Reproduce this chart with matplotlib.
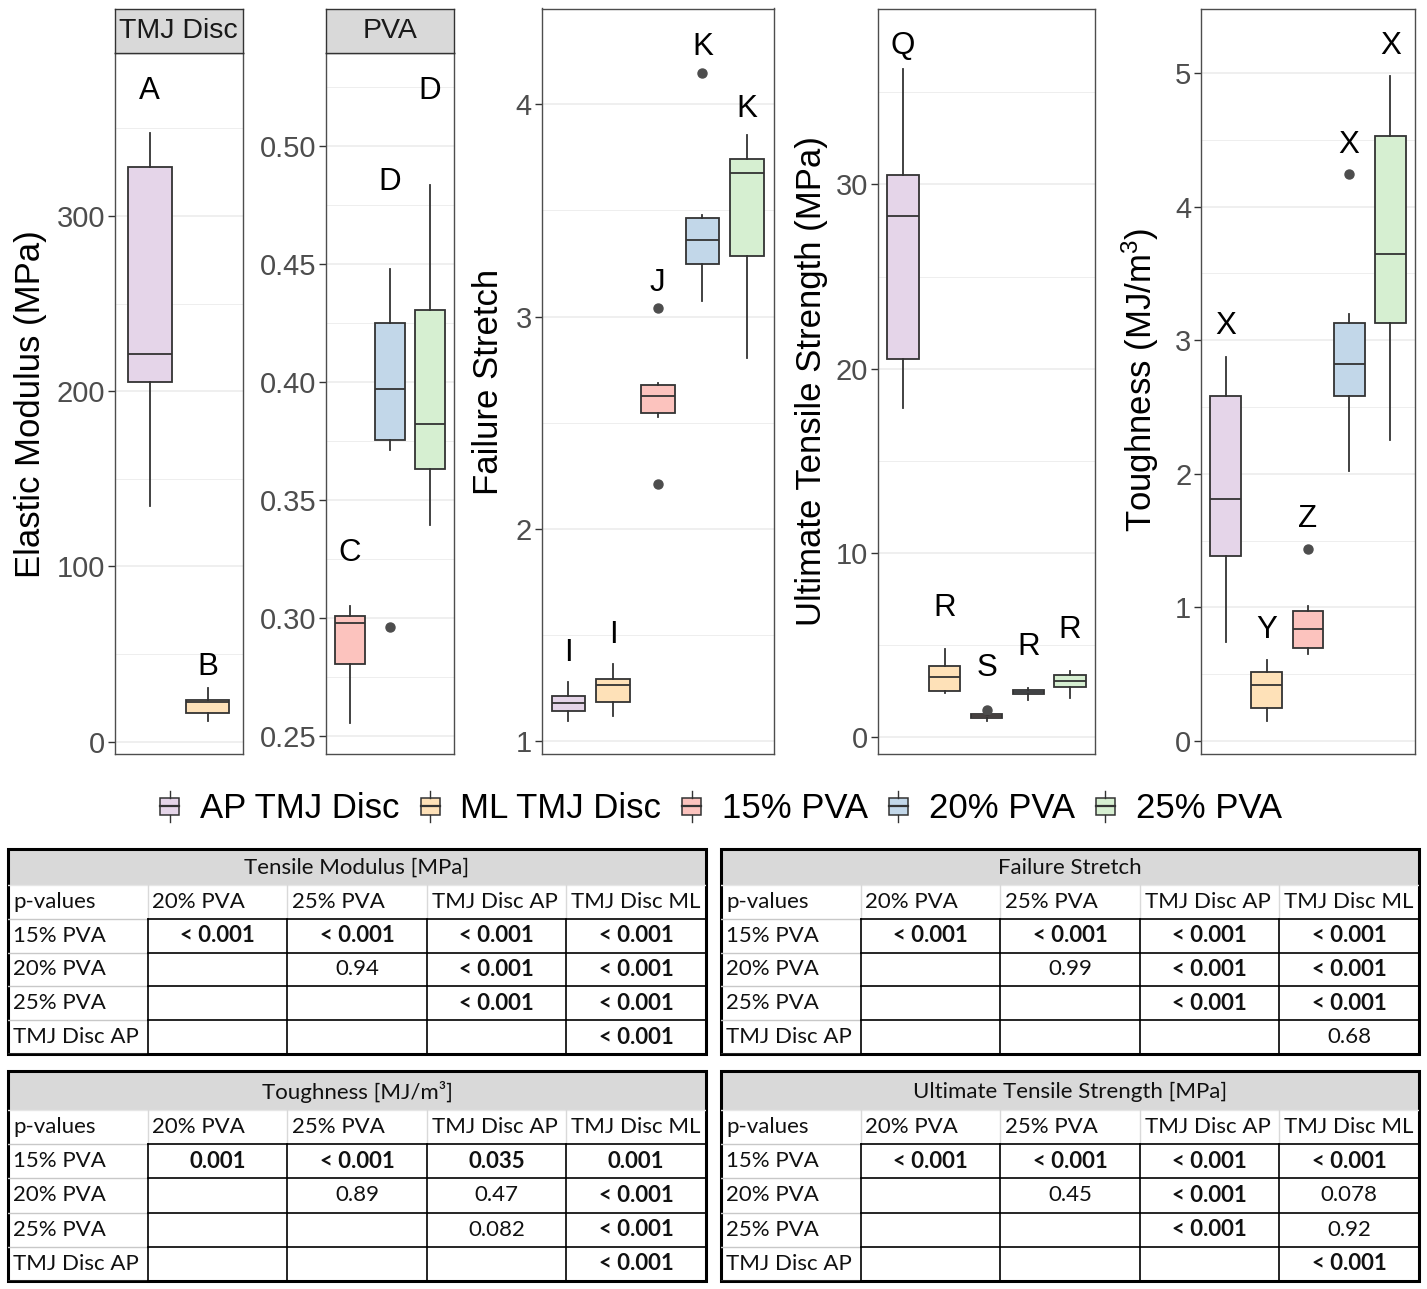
import matplotlib
matplotlib.use('Agg')
import matplotlib.pyplot as plt
from matplotlib.patches import Rectangle, Patch
from matplotlib.lines import Line2D
from matplotlib.legend_handler import HandlerBase

W, H = 1427, 1289
plt.rcParams['font.family'] = ['Liberation Sans', 'DejaVu Sans']
plt.rcParams['mathtext.fontset'] = 'custom'
plt.rcParams['mathtext.rm'] = 'Liberation Sans'
plt.rcParams['mathtext.it'] = 'Liberation Sans:italic'

# ---------------- data ----------------
groups = ['AP TMJ Disc', 'ML TMJ Disc', '15% PVA', '20% PVA', '25% PVA']
group_colors = ['#E5D5E9', '#FEE1B8', '#FCC3BE', '#C2D7E9', '#D6EFD1']

# Elastic modulus, TMJ Disc facet
em_tmj_groups = ['AP TMJ Disc', 'ML TMJ Disc']
em_tmj_whislo = [134.5, 11.6]
em_tmj_q1 = [205.1, 16.4]
em_tmj_med = [221.3, 22.6]
em_tmj_q3 = [328.2, 24.0]
em_tmj_whishi = [347.6, 30.8]
em_tmj_fliers = [[], []]
em_tmj_letters = ['A', 'B']
em_tmj_letter_y = [373.4, 44.5]

# Elastic modulus, PVA facet
em_pva_groups = ['15% PVA', '20% PVA', '25% PVA']
em_pva_whislo = [0.2556, 0.3712, 0.3393]
em_pva_q1 = [0.2807, 0.3754, 0.3633]
em_pva_med = [0.2979, 0.3969, 0.3821]
em_pva_q3 = [0.3008, 0.4251, 0.4307]
em_pva_whishi = [0.3051, 0.4481, 0.4837]
em_pva_fliers = [[], [0.2962], []]
em_pva_letters = ['C', 'D', 'D']
em_pva_letter_y = [0.329, 0.4862, 0.5247]

# Failure stretch
fs_whislo = [1.096, 1.118, 2.526, 3.071, 2.804]
fs_q1 = [1.143, 1.182, 2.545, 3.247, 3.283]
fs_med = [1.178, 1.264, 2.626, 3.360, 3.675]
fs_q3 = [1.212, 1.292, 2.678, 3.466, 3.744]
fs_whishi = [1.279, 1.363, 2.689, 3.479, 3.854]
fs_fliers = [[], [], [3.04, 2.21], [4.145], []]
fs_letters = ['I', 'I', 'J', 'K', 'K']
fs_letter_y = [1.429, 1.515, 3.173, 4.286, 3.995]

# Ultimate tensile strength
uts_whislo = [17.85, 2.36, 0.87, 1.99, 2.09]
uts_q1 = [20.53, 2.50, 1.00, 2.30, 2.72]
uts_med = [28.30, 3.24, 1.11, 2.43, 3.04]
uts_q3 = [30.51, 3.86, 1.21, 2.54, 3.35]
uts_whishi = [36.27, 4.78, 1.26, 2.66, 3.57]
uts_fliers = [[], [], [1.43], [], []]
uts_letters = ['Q', 'R', 'S', 'R', 'R']
uts_letter_y = [37.68, 7.16, 3.90, 5.07, 5.98]

# Toughness
tg_whislo = [0.738, 0.152, 0.651, 2.022, 2.251]
tg_q1 = [1.386, 0.249, 0.698, 2.580, 3.126]
tg_med = [1.812, 0.419, 0.840, 2.820, 3.642]
tg_q3 = [2.580, 0.514, 0.975, 3.131, 4.530]
tg_whishi = [2.874, 0.606, 1.012, 3.199, 4.979]
tg_fliers = [[], [], [1.436], [4.243], []]
tg_letters = ['X', 'Y', 'Z', 'X', 'X']
tg_letter_y = [3.13, 0.855, 1.683, 4.485, 5.223]

# p-value tables
table_cols = ['p-values', '20% PVA', '25% PVA', 'TMJ Disc AP', 'TMJ Disc ML']
table_rows = ['15% PVA', '20% PVA', '25% PVA', 'TMJ Disc AP']
tm_title = 'Tensile Modulus [MPa]'
tm_cells = [['< 0.001', '< 0.001', '< 0.001', '< 0.001'],
            ['', '0.94', '< 0.001', '< 0.001'],
            ['', '', '< 0.001', '< 0.001'],
            ['', '', '', '< 0.001']]
fst_title = 'Failure Stretch'
fst_cells = [['< 0.001', '< 0.001', '< 0.001', '< 0.001'],
             ['', '0.99', '< 0.001', '< 0.001'],
             ['', '', '< 0.001', '< 0.001'],
             ['', '', '', '0.68']]
tgt_title = 'Toughness [MJ/m³]'
tgt_cells = [['0.001', '< 0.001', '0.035', '0.001'],
             ['', '0.89', '0.47', '< 0.001'],
             ['', '', '0.082', '< 0.001'],
             ['', '', '', '< 0.001']]
utst_title = 'Ultimate Tensile Strength [MPa]'
utst_cells = [['< 0.001', '< 0.001', '< 0.001', '< 0.001'],
              ['', '0.45', '< 0.001', '0.078'],
              ['', '', '< 0.001', '0.92'],
              ['', '', '', '< 0.001']]

# ---------------- style ----------------
TICK_FS = 21
TITLE_FS = 25
LET_FS = 22.5
STRIP_FS = 20.5
LEG_FS = 25
TAB_FS = 16
EDGE = '#333333'
GRID = '#EBEBEB'

fig = plt.figure(figsize=(W / 100, H / 100), dpi=100)
fig.patch.set_facecolor('white')


def fax(x0, y0, x1, y1):
    return fig.add_axes([x0 / W, 1 - y1 / H, (x1 - x0) / W, (y1 - y0) / H])


def color_of(g):
    return group_colors[groups.index(g)]


def box_panel(ax, gnames, wlo, q1, med, q3, whi, fliers, letters, letter_y,
              ylim, yticks, yticklabels, minor):
    n = len(gnames)
    stats = [dict(whislo=wlo[i], q1=q1[i], med=med[i], q3=q3[i], whishi=whi[i],
                  fliers=fliers[i], label='') for i in range(n)]
    pos = list(range(1, n + 1))
    res = ax.bxp(stats, positions=pos, widths=0.75, patch_artist=True, showcaps=False,
                 boxprops=dict(edgecolor=EDGE, linewidth=1.3),
                 medianprops=dict(color=EDGE, linewidth=1.3),
                 whiskerprops=dict(color=EDGE, linewidth=1.3),
                 flierprops=dict(marker='o', markerfacecolor='#4D4D4D',
                                 markeredgecolor='#4D4D4D', markersize=6.5))
    for b, g in zip(res['boxes'], gnames):
        b.set_facecolor(color_of(g))
    for i in range(n):
        ax.annotate(letters[i], (pos[i], letter_y[i]), xytext=(0, -0.36 * LET_FS),
                    textcoords='offset points', ha='center', va='baseline',
                    fontsize=LET_FS, color='black')
    ax.set_xlim(0.4, n + 0.6)
    ax.set_ylim(*ylim)
    ax.set_xticks([])
    ax.set_yticks(yticks)
    ax.set_yticklabels(yticklabels)
    ax.set_yticks(minor, minor=True)
    ax.tick_params(axis='y', which='major', length=5, width=1.0, color=EDGE,
                   labelsize=TICK_FS, labelcolor='#4D4D4D', pad=2)
    ax.tick_params(axis='y', which='minor', length=0)
    ax.grid(axis='y', which='major', color=GRID, lw=1.1)
    ax.grid(axis='y', which='minor', color=GRID, lw=0.6)
    ax.set_axisbelow(True)
    for s in ax.spines.values():
        s.set_color('#4D4D4D')
        s.set_linewidth(1.0)


def strip(x0, y0, x1, y1, label):
    sa = fax(x0, y0, x1, y1)
    sa.set_xticks([]); sa.set_yticks([])
    sa.set_facecolor('#D9D9D9')
    for s in sa.spines.values():
        s.set_color(EDGE); s.set_linewidth(1.0)
    sa.text(0.5, 0.5, label, ha='center', va='center', fontsize=STRIP_FS,
            color='#1A1A1A', transform=sa.transAxes)


# Panel 1: TMJ disc elastic modulus
ax1 = fax(115, 53, 242.5, 754)
box_panel(ax1, em_tmj_groups, em_tmj_whislo, em_tmj_q1, em_tmj_med, em_tmj_q3,
          em_tmj_whishi, em_tmj_fliers, em_tmj_letters, em_tmj_letter_y,
          (-7, 393), [0, 100, 200, 300], ['0', '100', '200', '300'], [50, 150, 250, 350])
strip(115, 8.5, 242.5, 53, 'TMJ Disc')

# Panel 2: PVA elastic modulus
ax2 = fax(326, 53, 453.5, 754)
box_panel(ax2, em_pva_groups, em_pva_whislo, em_pva_q1, em_pva_med, em_pva_q3,
          em_pva_whishi, em_pva_fliers, em_pva_letters, em_pva_letter_y,
          (0.2424, 0.5395), [0.25, 0.30, 0.35, 0.40, 0.45, 0.50],
          ['0.25', '0.30', '0.35', '0.40', '0.45', '0.50'],
          [0.275, 0.325, 0.375, 0.425, 0.475, 0.525])
strip(326, 8.5, 453.5, 53, 'PVA')

# Panel 3: failure stretch
ax3 = fax(541.5, 8.5, 774, 754)
box_panel(ax3, groups, fs_whislo, fs_q1, fs_med, fs_q3, fs_whishi, fs_fliers,
          fs_letters, fs_letter_y, (0.939, 4.451), [1, 2, 3, 4], ['1', '2', '3', '4'],
          [1.5, 2.5, 3.5])

# Panel 4: UTS
ax4 = fax(878, 8.5, 1095, 754)
box_panel(ax4, groups, uts_whislo, uts_q1, uts_med, uts_q3, uts_whishi, uts_fliers,
          uts_letters, uts_letter_y, (-0.94, 39.56), [0, 10, 20, 30],
          ['0', '10', '20', '30'], [5, 15, 25, 35])

# Panel 5: toughness
ax5 = fax(1201, 8.5, 1415, 754)
box_panel(ax5, groups, tg_whislo, tg_q1, tg_med, tg_q3, tg_whishi, tg_fliers,
          tg_letters, tg_letter_y, (-0.097, 5.482), [0, 1, 2, 3, 4, 5],
          ['0', '1', '2', '3', '4', '5'], [0.5, 1.5, 2.5, 3.5, 4.5])

# Axis titles
def ytitle(x, y, s):
    fig.text(x / W, 1 - y / H, s, rotation=90, ha='center', va='center',
             fontsize=TITLE_FS, color='black')

ytitle(31, 404, 'Elastic Modulus (MPa)')
ytitle(489, 382, 'Failure Stretch')
ytitle(812, 381, 'Ultimate Tensile Strength (MPa)')
ytitle(1140, 380, r'Toughness (MJ/m$^{\mathrm{3}}$)')


# Legend
class BoxHandler(HandlerBase):
    def create_artists(self, legend, orig_handle, xdescent, ydescent, width, height,
                       fontsize, trans):
        fc = orig_handle.get_facecolor()
        cx = -xdescent + width / 2
        y0 = -ydescent
        bh = height * 0.64
        by = y0 + (height - bh) / 2
        rect = Rectangle((cx - width / 2, by), width, bh, facecolor=fc,
                         edgecolor=EDGE, lw=1.1, transform=trans)
        med = Line2D([cx - width / 2, cx + width / 2], [by + bh / 2] * 2,
                     color=EDGE, lw=1.6, transform=trans)
        w1 = Line2D([cx, cx], [y0 - height * 0.08, by], color=EDGE, lw=1.0, transform=trans)
        w2 = Line2D([cx, cx], [by + bh, y0 + height * 1.08], color=EDGE, lw=1.0,
                    transform=trans)
        return [rect, med, w1, w2]


handles = [Patch(facecolor=c, edgecolor=EDGE) for c in group_colors]
fig.legend(handles, groups, loc='center', bbox_to_anchor=(721 / W, 1 - 809 / H),
           ncol=5, frameon=False, fontsize=LEG_FS, handlelength=0.55,
           handleheight=0.8, handletextpad=0.6, columnspacing=0.6,
           handler_map={Patch: BoxHandler()})


# Tables
def is_sig(v):
    v = v.strip()
    if v.startswith('<'):
        return True
    return float(v) < 0.05


def draw_table(box, title, cols, rows, cells, title_h):
    x0, y0, x1, y1 = box
    ax = fax(x0, y0, x1, y1)
    ax.set_axis_off()
    ncol = len(cols)
    nrow = len(rows)
    total = title_h + 1 + nrow
    ax.set_xlim(0, ncol)
    ax.set_ylim(total, 0)
    kw = dict(fontsize=TAB_FS, family=['Lato', 'DejaVu Sans'], color='#111111')
    ax.add_patch(Rectangle((0, 0), ncol, title_h, facecolor='#D9D9D9', edgecolor='none'))
    ax.text(ncol / 2, title_h / 2 + 0.03, title, ha='center', va='center', **kw)
    hy = title_h
    pad = 0.035
    ax.plot([0, ncol], [hy, hy], color='#E6E6E6', lw=1.0)
    for j, lab in enumerate(cols):
        ax.text(j + pad, hy + 0.5, lab, ha='left', va='center', **kw)
        if j > 0:
            ax.plot([j, j], [hy, hy + 1], color='#D9D9D9', lw=1.0)
    for i in range(nrow + 1):
        y = hy + 1 + i
        ax.plot([0, 1], [y, y], color='#C8C8C8', lw=1.0)
    for i, rl in enumerate(rows):
        ax.text(pad, hy + 1.5 + i, rl, ha='left', va='center', **kw)
        for j, val in enumerate(cells[i]):
            if val:
                ax.text(j + 1.5, hy + 1.5 + i, val, ha='center', va='center',
                        weight='bold' if is_sig(val) else 'normal', **kw)
    for i in range(nrow + 1):
        ax.plot([1, ncol], [hy + 1 + i] * 2, color='black', lw=1.2)
    for j in range(1, ncol + 1):
        ax.plot([j, j], [hy + 1, total], color='black', lw=1.2)
    ax.add_patch(Rectangle((0, 0), ncol, total, fill=False, edgecolor='black',
                           lw=2.2, clip_on=False))


draw_table((8, 849, 706, 1054), tm_title, table_cols, table_rows, tm_cells, 1.06)
draw_table((721, 849, 1419, 1054), fst_title, table_cols, table_rows, fst_cells, 1.06)
draw_table((8, 1071, 706, 1281), tgt_title, table_cols, table_rows, tgt_cells, 1.14)
draw_table((721, 1071, 1419, 1281), utst_title, table_cols, table_rows, utst_cells, 1.14)

fig.savefig('out.png', dpi=100, facecolor='white')
